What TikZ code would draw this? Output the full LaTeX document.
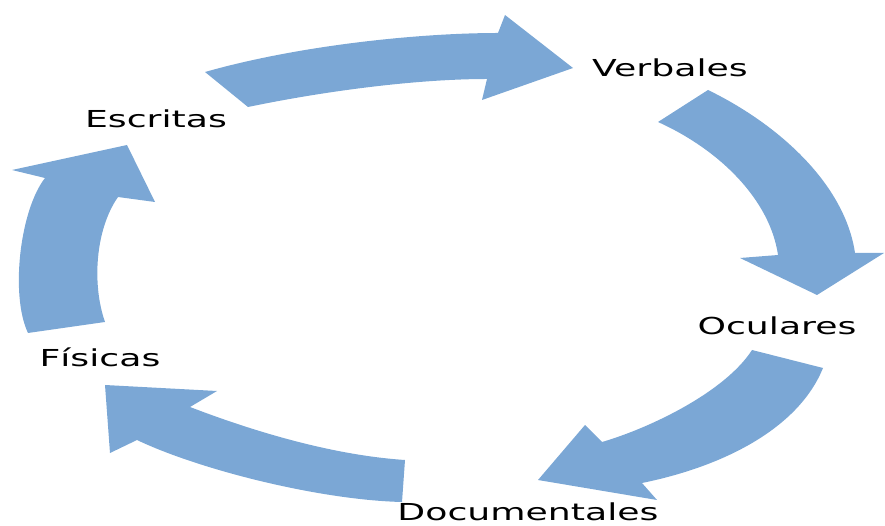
\documentclass[tikz,border=0pt]{standalone}
\usepackage{fontspec}
\newfontfamily\lblfont[FakeStretch=1.55]{DejaVu Sans}
\usepackage{tikz}
\usetikzlibrary{positioning}
\definecolor{cycleblue}{RGB}{123,167,213}
\tikzstyle{lbl}=[%
      font=\lblfont\fontsize{13.3}{16}\selectfont, text=black,
      inner sep=0pt, anchor=base
]
\tikzstyle{blk}=[%
      fill=cycleblue, draw=none
]
\begin{document}
\begin{tikzpicture}[x=0.02cm, y=-0.02cm]
    \useasboundingbox (0,0) rectangle (885,526);

    \node[lbl] (verbales)     at (670,77)  {Verbales};
    \node[lbl] (oculares)     at (777,335) {Oculares};
    \node[lbl] (documentales) at (528,520) {Documentales};
    \node[lbl] (fisicas)      at (100,367) {Físicas};
    \node[lbl] (escritas)     at (156,128) {Escritas};

    % escritas -> verbales
    \fill[blk] (205,72) .. controls (300,45) and (420,33) .. (498,33)
          -- (505,15) -- (573,68) -- (482,100) -- (487,79)
          .. controls (420,79) and (330,90) .. (248,107) -- cycle;
    % verbales -> oculares
    \fill[blk] (708,90) .. controls (780,125) and (845,185) .. (855,253)
          -- (884,253) -- (817,295) -- (740,258) -- (778,255)
          .. controls (770,200) and (720,150) .. (658,122) -- cycle;
    % oculares -> documentales
    \fill[blk] (823,368) .. controls (800,425) and (730,465) .. (642,483)
          -- (657,500) -- (538,480) -- (585,425) -- (602,442)
          .. controls (650,428) and (725,392) .. (752,350) -- cycle;
    % documentales -> fisicas
    \fill[blk] (402,502) .. controls (320,500) and (200,470) .. (137,440)
          -- (110,453) -- (105,385) -- (217,391) -- (190,407)
          .. controls (250,430) and (330,455) .. (405,460) -- cycle;
    % fisicas -> escritas
    \fill[blk] (105,322) .. controls (92,285) and (95,230) .. (118,197)
          -- (155,202) -- (127,145) -- (12,170) -- (45,178)
          .. controls (20,210) and (10,295) .. (28,333) -- cycle;

  \end{tikzpicture}
\end{document}
